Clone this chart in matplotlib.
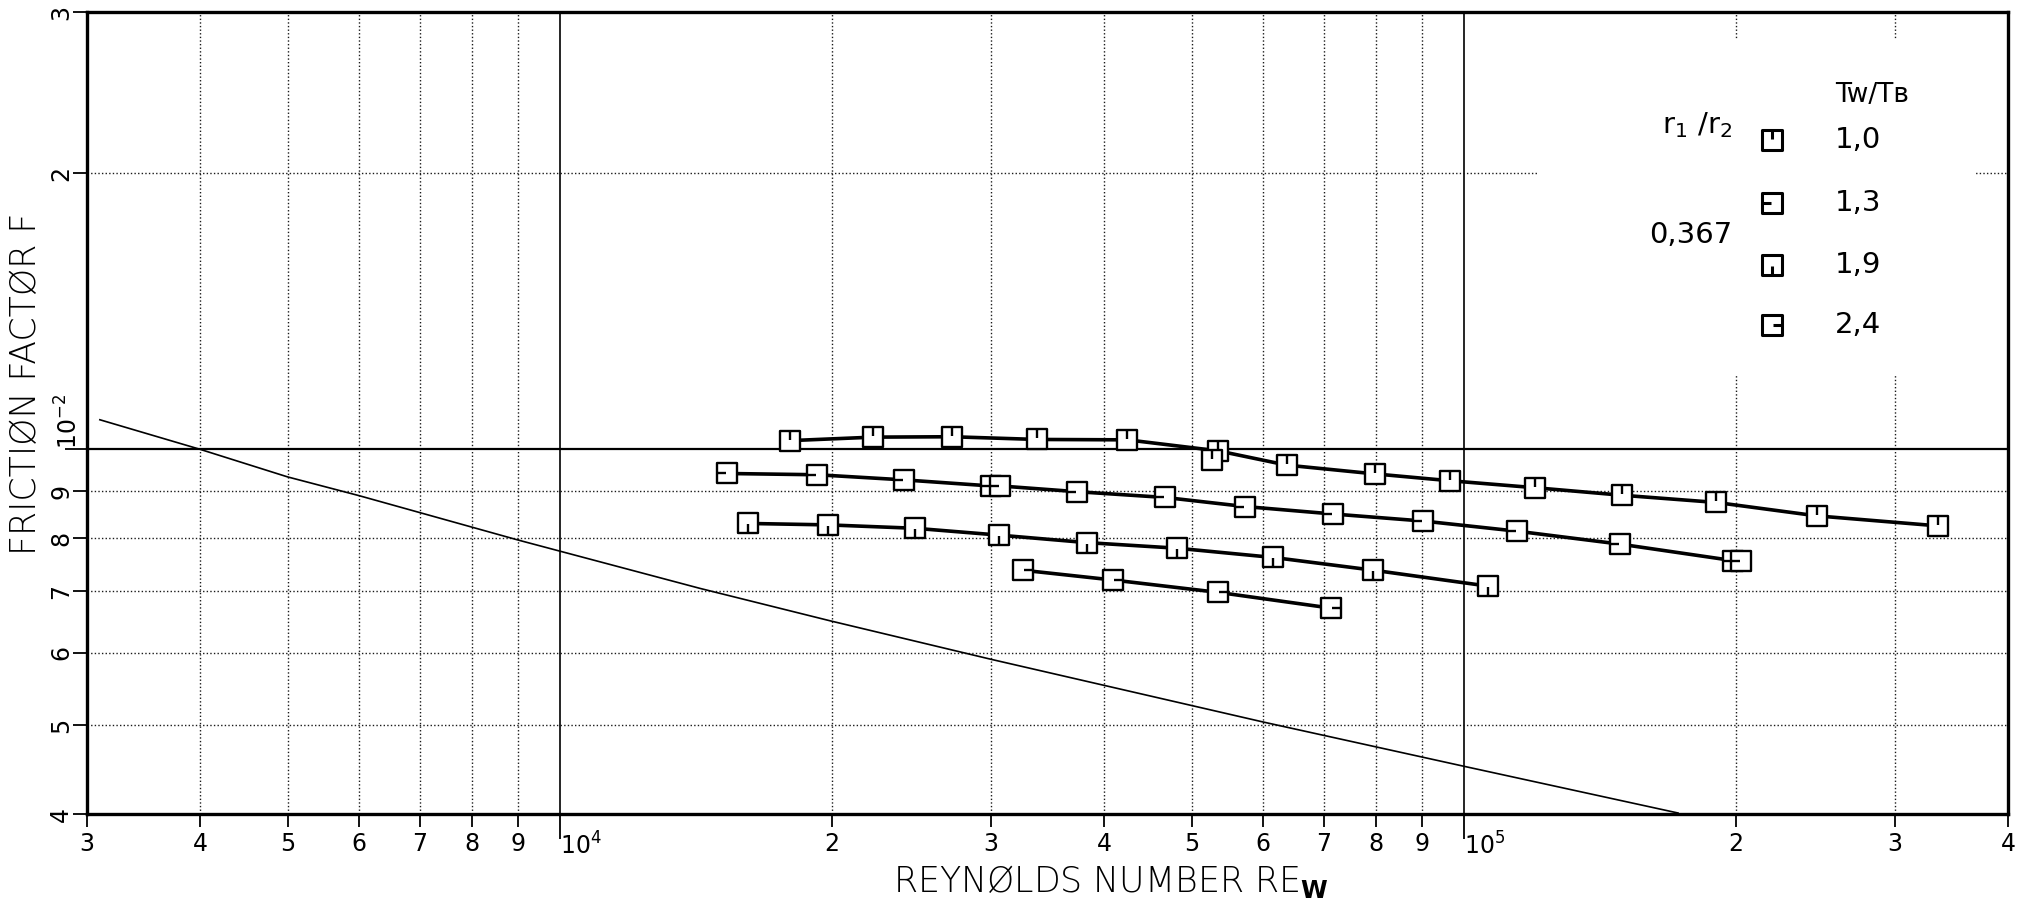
import matplotlib
matplotlib.use("Agg")
import matplotlib.pyplot as plt
from matplotlib.path import Path
from matplotlib.markers import MarkerStyle
from matplotlib.patches import Rectangle

# ---- measured friction factors, annulus r1/r2 = 0,367 ----
# Tw/Tb = 1,0
re_10 = [17980, 22230, 27140, 33750, 42450, 53530, 63710, 79800, 96580,
         119900, 149600, 190200, 245700, 334500]
f_10 = [0.01022, 0.01031, 0.01032, 0.01025, 0.01024, 0.00996, 0.00961,
        0.00940, 0.00924, 0.00908, 0.00891, 0.00875, 0.00846, 0.00825]
re_10_extra = [52630]
f_10_extra = [0.00974]

# Tw/Tb = 1,3
re_13 = [15320, 19280, 24040, 29980, 30700, 37310, 46740, 57300, 71640,
         90230, 114600, 148900, 198600, 202700]
f_13 = [0.00941, 0.00938, 0.00926, 0.00912, 0.00912, 0.00899, 0.00886,
        0.00866, 0.00850, 0.00835, 0.00814, 0.00788, 0.00756, 0.00756]

# Tw/Tb = 1,9
re_19 = [16170, 19820, 24720, 30640, 38290, 48150, 61590, 79450, 106500]
f_19 = [0.00830, 0.00827, 0.00820, 0.00806, 0.00791, 0.00780, 0.00762,
        0.00738, 0.00709]

# Tw/Tb = 2,4
re_24 = [32520, 40960, 53530, 71290]
f_24 = [0.00738, 0.00720, 0.00698, 0.00671]

# smooth-tube reference curve
re_ref = [3100, 4000, 5000, 6000, 9000, 14300, 19900, 30000, 60000,
          100000, 172600]
f_ref = [0.01077, 0.01000, 0.00933, 0.00890, 0.00796, 0.00705, 0.00650,
         0.00590, 0.00504, 0.00451, 0.00401]

# ---- axis ticks ----
x_minor_ticks = [3e3, 4e3, 5e3, 6e3, 7e3, 8e3, 9e3,
                 2e4, 3e4, 4e4, 5e4, 6e4, 7e4, 8e4, 9e4,
                 2e5, 3e5, 4e5]
x_minor_labels = ['3', '4', '5', '6', '7', '8', '9',
                  '2', '3', '4', '5', '6', '7', '8', '9',
                  '2', '3', '4']
x_major_ticks = [1e4, 1e5]
x_major_labels = ['10$^4$', '10$^5$']

y_minor_ticks = [0.004, 0.005, 0.006, 0.007, 0.008, 0.009, 0.02, 0.03]
y_minor_labels = ['4', '5', '6', '7', '8', '9', '2', '3']
y_major_ticks = [0.01]
y_major_labels = ['10$^{-2}$']

legend_title_left = 'r$_1$ /r$_2$'
legend_title_right = 'Tw/T\u0299'
legend_ratio = '0,367'
legend_values = ['1,0', '1,3', '1,9', '2,4']

plt.rcParams['font.family'] = ['DejaVu Sans']
plt.rcParams['mathtext.fontset'] = 'dejavusans'


def square_marker(sx, sy):
    """Open square with a short stroke entering from one side."""
    verts = [(-1, -1), (1, -1), (1, 1), (-1, 1), (-1, -1),
             (sx, sy), (0.1 * sx, 0.1 * sy)]
    codes = [Path.MOVETO, Path.LINETO, Path.LINETO, Path.LINETO,
             Path.CLOSEPOLY, Path.MOVETO, Path.LINETO]
    return MarkerStyle(Path(verts, codes))


markers = [square_marker(0, 1),    # stroke from top
           square_marker(-1, 0),   # stroke from left
           square_marker(0, -1),   # stroke from bottom
           square_marker(1, 0)]    # stroke from right

fig = plt.figure(figsize=(20.25, 9.01), dpi=100)
ax = fig.add_axes([87 / 2025, 1 - 814 / 901, (2008 - 87) / 2025, (814 - 12) / 901])
ax.set_xscale('log')
ax.set_yscale('log')
ax.set_xlim(3000, 4e5)
ax.set_ylim(0.004, 0.03)

ax.set_xticks(x_major_ticks, x_major_labels)
ax.set_xticks(x_minor_ticks, x_minor_labels, minor=True)
ax.set_yticks(y_major_ticks, y_major_labels)
ax.set_yticks(y_minor_ticks, y_minor_labels, minor=True)

tick_font = 17
ax.tick_params(axis='x', which='minor', direction='out', length=9, width=1.3,
               pad=4, labelsize=tick_font)
ax.tick_params(axis='x', which='major', direction='out', length=18, width=1.3,
               pad=-5, labelsize=tick_font)
ax.tick_params(axis='y', which='minor', direction='out', length=10, width=1.3,
               pad=0, labelsize=tick_font, labelrotation=90)
ax.tick_params(axis='y', which='major', direction='out', length=16, width=1.3,
               pad=-13, labelsize=tick_font, labelrotation=90)
for lab in ax.get_xticklabels(which='major'):
    lab.set_ha('left')
for lab in ax.get_yticklabels(which='minor'):
    lab.set_va('center')
for lab in ax.get_yticklabels(which='major'):
    lab.set_va('bottom')

ax.set_axisbelow(True)
ax.grid(which='minor', color='0.1', linestyle=(0, (1, 1.6)), linewidth=1.0)
ax.grid(which='major', axis='x', color='black', linestyle='-', linewidth=1.2)
ax.grid(which='major', axis='y', color='black', linestyle='-', linewidth=1.6)

for sp in ax.spines.values():
    sp.set_linewidth(2.4)

# blank panel behind the key
ax.add_patch(Rectangle((0.7548, 0.5474), 0.9828 - 0.7548, 0.9651 - 0.5474,
                       transform=ax.transAxes, facecolor='white',
                       edgecolor='none', zorder=1))

# reference curve
ax.plot(re_ref, f_ref, color='black', linewidth=1.2, zorder=2)

mk = dict(markersize=14, markerfacecolor='white', markeredgecolor='black',
          markeredgewidth=1.7, color='black', zorder=3)
ax.plot(re_10, f_10, marker=markers[0], linewidth=2.6, **mk)
ax.plot(re_10_extra, f_10_extra, marker=markers[0], linestyle='none', **mk)
ax.plot(re_13, f_13, marker=markers[1], linewidth=2.6, **mk)
ax.plot(re_19, f_19, marker=markers[2], linewidth=2.6, **mk)
ax.plot(re_24, f_24, marker=markers[3], linewidth=2.6, **mk)

# key
key_x = 0.8771
key_y = [0.8404, 0.7618, 0.6845, 0.6097]
ax.text(0.8381, 0.8590, legend_title_left, transform=ax.transAxes,
        ha='center', va='center', fontsize=21, zorder=4)
ax.text(0.9292, 0.8960, legend_title_right, transform=ax.transAxes,
        ha='center', va='center', fontsize=19, zorder=4)
ax.text(0.8350, 0.7219, legend_ratio, transform=ax.transAxes,
        ha='center', va='center', fontsize=21, zorder=4)
for m, yy, val in zip(markers, key_y, legend_values):
    ax.plot([key_x], [yy], marker=m, linestyle='none', transform=ax.transAxes,
            markersize=15, markerfacecolor='white', markeredgecolor='black',
            markeredgewidth=2.2, zorder=4)
    ax.text(0.9219, yy, val, transform=ax.transAxes, ha='center', va='center',
            fontsize=21, zorder=4)

fig.text(26 / 2025, 1 - 384 / 901, 'FRICTIØN FACTØR F', rotation=90,
         ha='center', va='center', fontsize=25, fontweight='light')
fig.text(1111 / 2025, 1 - 882 / 901, 'REYNØLDS NUMBER RE$_{\\mathbf{W}}$',
         ha='center', va='center', fontsize=25, fontweight='light')

fig.savefig('out.png', dpi=100, facecolor='white')
